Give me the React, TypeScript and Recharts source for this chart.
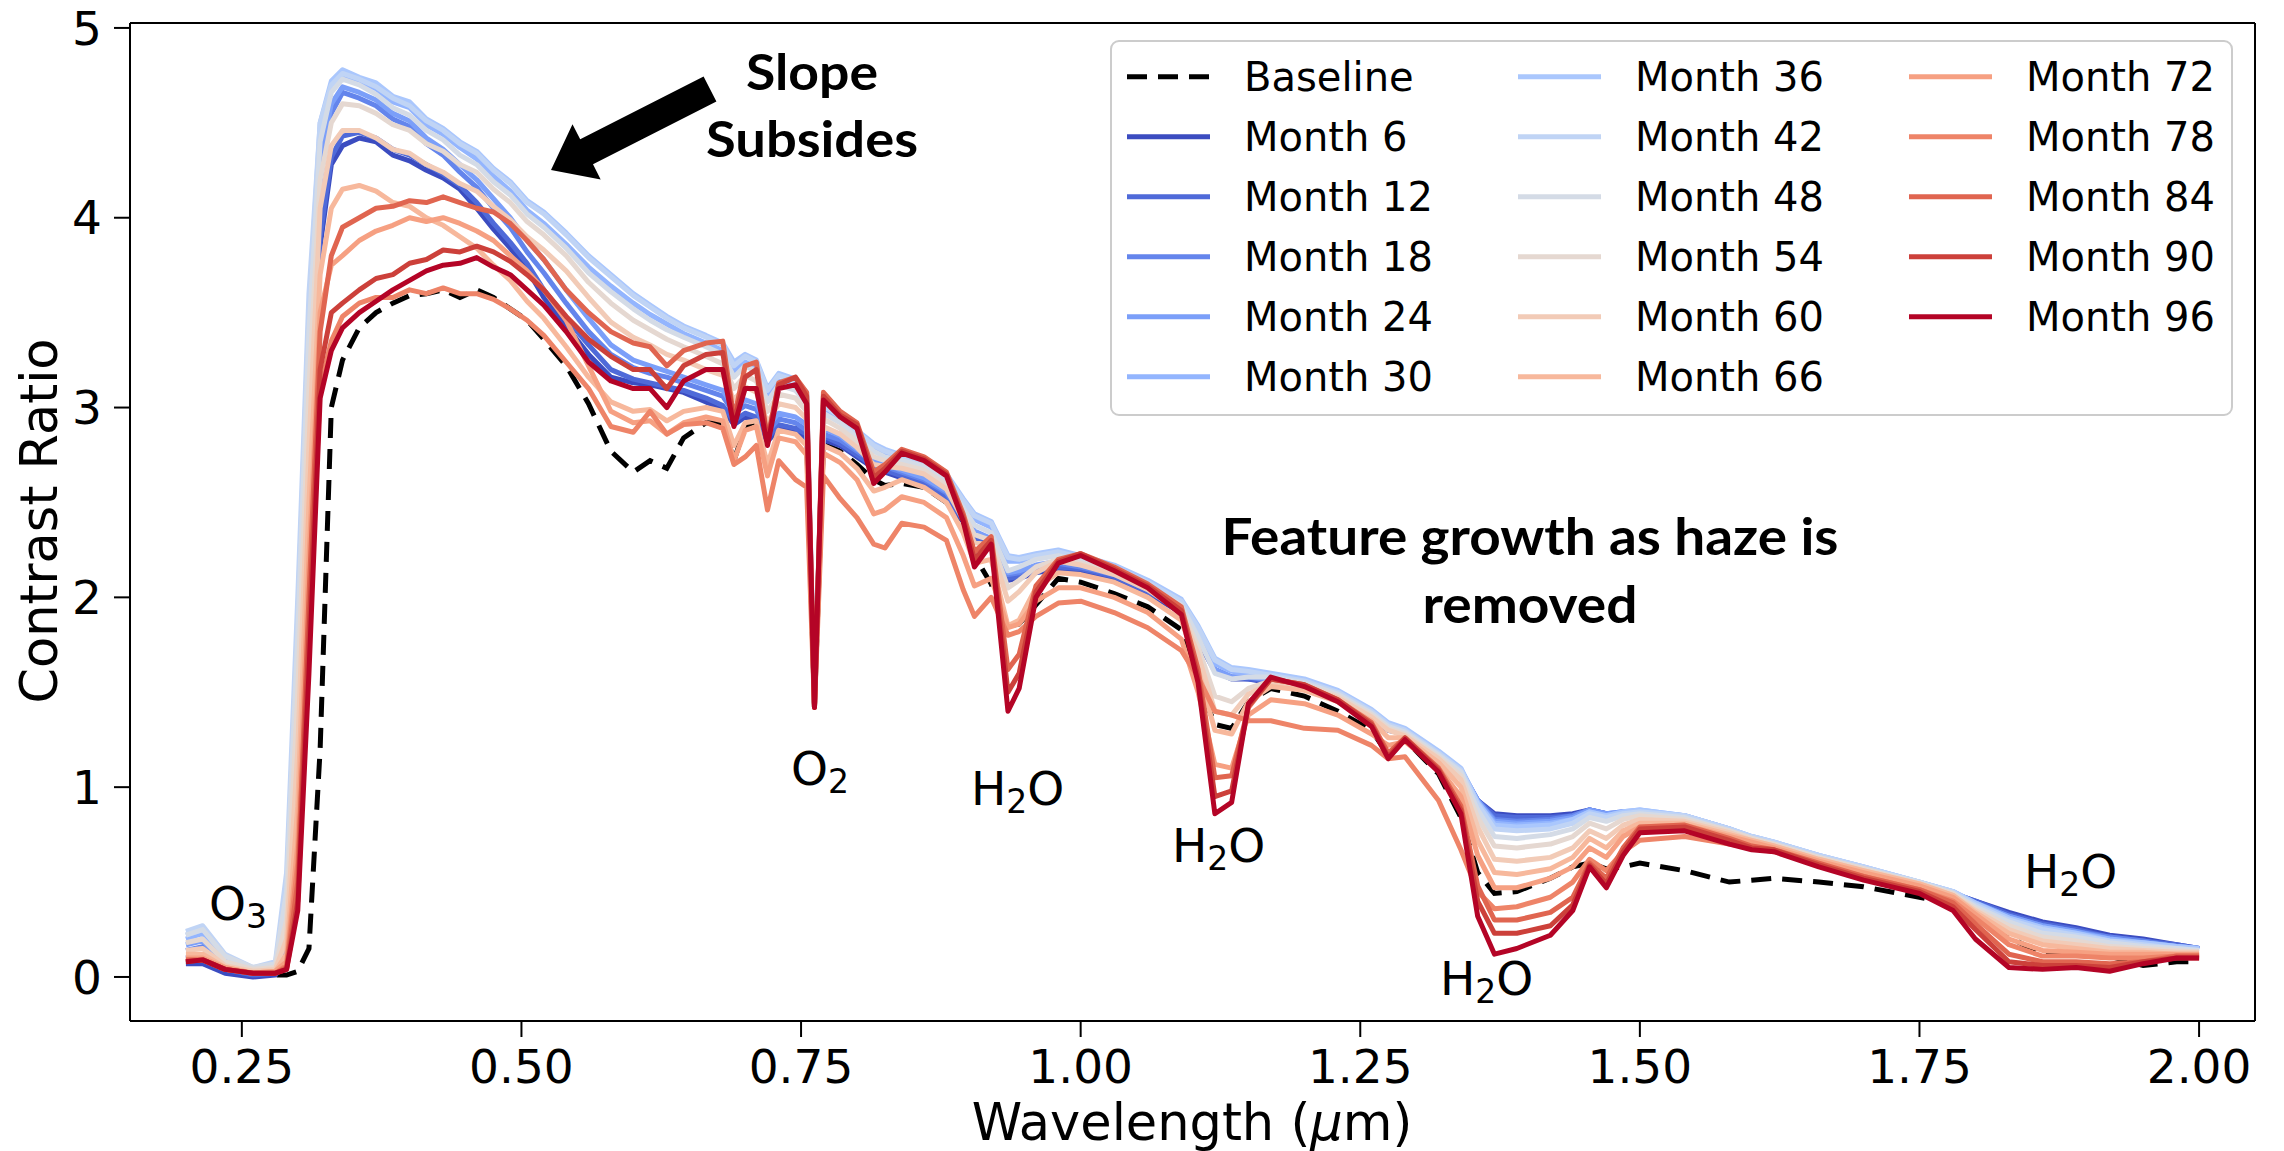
import React from 'react'
import { LineChart, Line, XAxis, YAxis, ReferenceLine } from 'recharts'

const W = 2284
const H = 1151

// wavelength grid (micron)
const WAVELENGTH = [
  0.2, 0.215, 0.235, 0.26, 0.28, 0.29, 0.3, 0.31, 0.32, 0.33,
  0.34, 0.355, 0.37, 0.385, 0.4, 0.415, 0.43, 0.445, 0.46, 0.475, 0.49, 0.505, 0.52, 0.54, 0.56,
  0.58, 0.6, 0.615, 0.63, 0.645, 0.665, 0.68, 0.69, 0.7, 0.71, 0.72, 0.73, 0.745, 0.755, 0.762, 0.77,
  0.785, 0.8, 0.815, 0.825, 0.84, 0.86, 0.88, 0.895, 0.905, 0.92, 0.935, 0.945, 0.96, 0.98, 1.0,
  1.03, 1.06, 1.09, 1.105, 1.12, 1.135, 1.15, 1.17, 1.2, 1.23, 1.26,
  1.275, 1.29, 1.32, 1.34, 1.355, 1.37, 1.39, 1.42, 1.44, 1.455, 1.47, 1.485, 1.5, 1.54, 1.58,
  1.6, 1.62, 1.66, 1.7, 1.75, 1.78, 1.8, 1.83, 1.86, 1.89, 1.92, 1.95, 1.98, 2.0
]

const BASELINE = [
  0.08, 0.08, 0.03, 0.01, 0.01, 0.01, 0.03, 0.15, 1.2, 3.0,
  3.25, 3.42, 3.5, 3.55, 3.59, 3.6, 3.62, 3.58, 3.62, 3.58, 3.52, 3.46, 3.36, 3.22, 3.02,
  2.77, 2.66, 2.72, 2.68, 2.84, 2.92, 2.92, 2.72, 2.9, 2.93, 2.83, 2.88, 2.89, 2.85, 1.42, 2.81,
  2.77, 2.7, 2.62, 2.59, 2.6, 2.58, 2.5, 2.4, 2.22, 2.07, 1.85, 1.86, 1.96, 2.1, 2.08,
  2.02, 1.95, 1.83, 1.56, 1.33, 1.31, 1.45, 1.52, 1.48, 1.4, 1.3,
  1.17, 1.25, 1.07, 0.84, 0.55, 0.44, 0.45, 0.52, 0.58, 0.6, 0.57, 0.58, 0.6, 0.56, 0.5,
  0.51, 0.52, 0.5, 0.475, 0.42, 0.38, 0.33, 0.21, 0.12, 0.12, 0.11, 0.06, 0.08, 0.08
]

const MONTH_6 = [
  0.07, 0.07, 0.02, 0.0, 0.01, 0.1, 1.1, 2.7, 3.85, 4.28,
  4.38, 4.42, 4.4, 4.33, 4.3, 4.25, 4.21, 4.15, 4.05, 3.94, 3.84, 3.73, 3.58, 3.43, 3.28,
  3.16, 3.13, 3.12, 3.1, 3.08, 3.03, 2.99, 2.91, 2.95, 2.93, 2.82, 2.89, 2.87, 2.84, 1.44, 2.83,
  2.8, 2.74, 2.68, 2.66, 2.63, 2.59, 2.52, 2.4, 2.31, 2.26, 2.09, 2.1, 2.13, 2.15, 2.14,
  2.1, 2.02, 1.92, 1.77, 1.61, 1.57, 1.57, 1.55, 1.52, 1.46, 1.36,
  1.3, 1.28, 1.17, 1.08, 0.93, 0.86, 0.85, 0.85, 0.86, 0.88, 0.86, 0.86, 0.86, 0.83, 0.76,
  0.73, 0.7, 0.63, 0.57, 0.49, 0.44, 0.4, 0.34, 0.29, 0.26, 0.22, 0.2, 0.17, 0.15
]

const MONTH_12 = [
  0.1, 0.11, 0.04, 0.01, 0.02, 0.15, 1.2, 2.8, 3.9, 4.32,
  4.43, 4.45, 4.42, 4.36, 4.33, 4.28, 4.23, 4.17, 4.08, 3.97, 3.87, 3.76, 3.62, 3.47, 3.33,
  3.2, 3.15, 3.13, 3.11, 3.09, 3.05, 3.01, 2.93, 2.97, 2.95, 2.84, 2.91, 2.89, 2.86, 1.44, 2.85,
  2.81, 2.75, 2.69, 2.67, 2.64, 2.6, 2.53, 2.41, 2.32, 2.27, 2.1, 2.11, 2.14, 2.16, 2.15,
  2.11, 2.03, 1.93, 1.78, 1.62, 1.58, 1.57, 1.56, 1.53, 1.47, 1.37,
  1.31, 1.28, 1.17, 1.08, 0.93, 0.85, 0.84, 0.84, 0.85, 0.88, 0.86, 0.86, 0.86, 0.84, 0.77,
  0.73, 0.7, 0.63, 0.57, 0.49, 0.44, 0.4, 0.33, 0.28, 0.25, 0.21, 0.19, 0.17, 0.15
]

const MONTH_18 = [
  0.14, 0.16, 0.06, 0.02, 0.03, 0.2, 1.4, 3.1, 4.2, 4.55,
  4.66, 4.63, 4.59, 4.52, 4.48, 4.39, 4.33, 4.24, 4.16, 4.05, 3.95, 3.82, 3.71, 3.55, 3.4,
  3.28, 3.21, 3.18, 3.16, 3.13, 3.09, 3.06, 2.97, 3.01, 2.99, 2.87, 2.94, 2.92, 2.88, 1.44, 2.86,
  2.83, 2.77, 2.71, 2.69, 2.66, 2.62, 2.55, 2.43, 2.34, 2.3, 2.12, 2.13, 2.16, 2.18, 2.16,
  2.12, 2.04, 1.94, 1.79, 1.62, 1.58, 1.58, 1.56, 1.53, 1.47, 1.37,
  1.31, 1.29, 1.17, 1.09, 0.93, 0.83, 0.82, 0.83, 0.85, 0.88, 0.86, 0.87, 0.87, 0.84, 0.77,
  0.73, 0.7, 0.63, 0.57, 0.49, 0.44, 0.39, 0.32, 0.27, 0.24, 0.21, 0.19, 0.16, 0.15
]

const MONTH_24 = [
  0.17, 0.19, 0.08, 0.03, 0.04, 0.25, 1.5, 3.2, 4.3, 4.6,
  4.69, 4.66, 4.62, 4.55, 4.51, 4.42, 4.36, 4.28, 4.2, 4.1, 4.0, 3.88, 3.78, 3.62, 3.47,
  3.33, 3.25, 3.22, 3.19, 3.16, 3.12, 3.09, 3.0, 3.04, 3.02, 2.9, 2.97, 2.95, 2.91, 1.44, 2.89,
  2.85, 2.78, 2.72, 2.7, 2.67, 2.63, 2.56, 2.44, 2.35, 2.31, 2.13, 2.14, 2.17, 2.19, 2.17,
  2.13, 2.05, 1.95, 1.8, 1.62, 1.58, 1.58, 1.57, 1.54, 1.48, 1.38,
  1.32, 1.29, 1.18, 1.09, 0.93, 0.82, 0.81, 0.82, 0.84, 0.88, 0.86, 0.87, 0.87, 0.85, 0.78,
  0.73, 0.7, 0.63, 0.57, 0.49, 0.44, 0.39, 0.32, 0.27, 0.24, 0.2, 0.18, 0.16, 0.15
]

const MONTH_30 = [
  0.2, 0.23, 0.1, 0.04, 0.05, 0.35, 1.7, 3.4, 4.45, 4.7,
  4.75, 4.72, 4.68, 4.61, 4.58, 4.49, 4.44, 4.37, 4.31, 4.22, 4.14, 4.04, 3.97, 3.86, 3.74,
  3.64, 3.55, 3.49, 3.44, 3.39, 3.34, 3.3, 3.19, 3.24, 3.21, 3.06, 3.14, 3.11, 3.04, 1.45, 2.99,
  2.93, 2.85, 2.78, 2.75, 2.73, 2.7, 2.62, 2.49, 2.41, 2.37, 2.19, 2.19, 2.21, 2.23, 2.2,
  2.15, 2.07, 1.97, 1.82, 1.65, 1.61, 1.6, 1.59, 1.56, 1.5, 1.4,
  1.33, 1.3, 1.18, 1.09, 0.92, 0.81, 0.8, 0.81, 0.83, 0.87, 0.85, 0.87, 0.88, 0.85, 0.78,
  0.74, 0.71, 0.64, 0.58, 0.5, 0.45, 0.39, 0.31, 0.26, 0.23, 0.2, 0.18, 0.16, 0.15
]

const MONTH_36 = [
  0.22, 0.25, 0.11, 0.04, 0.06, 0.45, 1.9, 3.5, 4.5, 4.72,
  4.78, 4.74, 4.71, 4.64, 4.61, 4.52, 4.47, 4.4, 4.35, 4.26, 4.19, 4.09, 4.03, 3.92, 3.8,
  3.7, 3.6, 3.54, 3.48, 3.43, 3.38, 3.34, 3.24, 3.28, 3.25, 3.1, 3.18, 3.15, 3.08, 1.45, 3.02,
  2.96, 2.88, 2.81, 2.78, 2.75, 2.72, 2.65, 2.52, 2.44, 2.4, 2.22, 2.21, 2.23, 2.25, 2.22,
  2.17, 2.09, 1.99, 1.85, 1.68, 1.63, 1.62, 1.6, 1.57, 1.51, 1.41,
  1.34, 1.31, 1.19, 1.1, 0.92, 0.8, 0.79, 0.8, 0.83, 0.87, 0.85, 0.87, 0.88, 0.85, 0.78,
  0.74, 0.71, 0.64, 0.58, 0.5, 0.45, 0.39, 0.31, 0.26, 0.23, 0.19, 0.18, 0.16, 0.15
]

const MONTH_42 = [
  0.24, 0.27, 0.12, 0.05, 0.08, 0.55, 2.0, 3.6, 4.5, 4.7,
  4.76, 4.73, 4.69, 4.63, 4.59, 4.51, 4.46, 4.39, 4.34, 4.25, 4.18, 4.08, 4.02, 3.91, 3.79,
  3.69, 3.59, 3.53, 3.47, 3.42, 3.37, 3.33, 3.22, 3.27, 3.24, 3.09, 3.17, 3.14, 3.07, 1.45, 3.01,
  2.95, 2.87, 2.8, 2.77, 2.74, 2.71, 2.64, 2.51, 2.43, 2.39, 2.21, 2.2, 2.22, 2.24, 2.21,
  2.16, 2.08, 1.98, 1.84, 1.67, 1.62, 1.61, 1.59, 1.56, 1.5, 1.4,
  1.33, 1.3, 1.18, 1.09, 0.91, 0.78, 0.77, 0.78, 0.81, 0.86, 0.84, 0.86, 0.87, 0.85, 0.78,
  0.74, 0.71, 0.64, 0.58, 0.5, 0.45, 0.38, 0.3, 0.25, 0.22, 0.19, 0.17, 0.15, 0.14
]

const MONTH_48 = [
  0.22, 0.25, 0.11, 0.05, 0.07, 0.45, 1.8, 3.4, 4.4, 4.66,
  4.73, 4.7, 4.65, 4.58, 4.54, 4.46, 4.41, 4.33, 4.28, 4.19, 4.12, 4.02, 3.95, 3.84, 3.71,
  3.61, 3.52, 3.46, 3.41, 3.37, 3.32, 3.28, 3.16, 3.22, 3.19, 3.03, 3.12, 3.09, 3.02, 1.45, 2.97,
  2.92, 2.84, 2.77, 2.74, 2.72, 2.69, 2.61, 2.47, 2.38, 2.34, 2.14, 2.16, 2.2, 2.22, 2.19,
  2.14, 2.06, 1.96, 1.79, 1.6, 1.57, 1.58, 1.58, 1.55, 1.49, 1.39,
  1.32, 1.29, 1.17, 1.08, 0.88, 0.74, 0.73, 0.75, 0.78, 0.84, 0.82, 0.85, 0.86, 0.84, 0.77,
  0.73, 0.7, 0.63, 0.57, 0.5, 0.44, 0.37, 0.29, 0.23, 0.21, 0.18, 0.16, 0.15, 0.14
]

const MONTH_54 = [
  0.18, 0.2, 0.08, 0.04, 0.05, 0.3, 1.5, 3.1, 4.2, 4.5,
  4.6, 4.59, 4.55, 4.49, 4.46, 4.39, 4.35, 4.28, 4.24, 4.15, 4.08, 3.98, 3.91, 3.8, 3.66,
  3.55, 3.46, 3.41, 3.36, 3.32, 3.27, 3.23, 3.1, 3.17, 3.14, 2.98, 3.07, 3.05, 2.98, 1.44, 2.94,
  2.89, 2.82, 2.74, 2.72, 2.7, 2.67, 2.59, 2.44, 2.33, 2.3, 2.05, 2.09, 2.16, 2.2, 2.18,
  2.13, 2.05, 1.94, 1.74, 1.48, 1.45, 1.52, 1.56, 1.54, 1.48, 1.38,
  1.31, 1.28, 1.16, 1.06, 0.84, 0.69, 0.68, 0.7, 0.74, 0.81, 0.78, 0.83, 0.85, 0.83, 0.77,
  0.73, 0.7, 0.63, 0.57, 0.49, 0.44, 0.36, 0.27, 0.21, 0.19, 0.16, 0.15, 0.14, 0.13
]

const MONTH_60 = [
  0.14, 0.15, 0.06, 0.03, 0.04, 0.2, 1.2, 2.8, 4.05, 4.38,
  4.46, 4.46, 4.42, 4.36, 4.34, 4.28, 4.24, 4.18, 4.14, 4.06, 3.99, 3.9, 3.83, 3.72, 3.58,
  3.45, 3.37, 3.33, 3.28, 3.25, 3.2, 3.17, 3.04, 3.11, 3.08, 2.92, 3.02, 3.0, 2.94, 1.44, 2.9,
  2.86, 2.79, 2.7, 2.69, 2.68, 2.65, 2.57, 2.41, 2.29, 2.27, 1.98, 2.03, 2.13, 2.19, 2.17,
  2.12, 2.04, 1.92, 1.7, 1.4, 1.38, 1.49, 1.55, 1.53, 1.47, 1.37,
  1.3, 1.27, 1.15, 1.04, 0.79, 0.62, 0.61, 0.63, 0.68, 0.77, 0.73, 0.8, 0.83, 0.82, 0.76,
  0.72, 0.69, 0.62, 0.56, 0.49, 0.43, 0.35, 0.25, 0.19, 0.17, 0.15, 0.14, 0.13, 0.13
]

const MONTH_66 = [
  0.12, 0.12, 0.05, 0.02, 0.03, 0.12, 0.9, 2.5, 3.7, 4.05,
  4.15, 4.17, 4.14, 4.08, 4.06, 4.0, 3.96, 3.9, 3.84, 3.75, 3.67, 3.56, 3.47, 3.32, 3.16,
  3.03, 2.98, 2.99, 2.93, 2.98, 3.0, 2.98, 2.8, 2.92, 2.93, 2.7, 2.88, 2.86, 2.8, 1.43, 2.8,
  2.76, 2.68, 2.56, 2.58, 2.62, 2.58, 2.5, 2.34, 2.18, 2.2, 1.85, 1.88, 2.05, 2.13, 2.12,
  2.08, 2.0, 1.88, 1.62, 1.3, 1.28, 1.45, 1.53, 1.51, 1.45, 1.35,
  1.26, 1.26, 1.13, 1.0, 0.72, 0.55, 0.54, 0.57, 0.63, 0.73, 0.68, 0.77, 0.81, 0.81, 0.75,
  0.72, 0.69, 0.62, 0.56, 0.49, 0.43, 0.34, 0.23, 0.17, 0.15, 0.13, 0.13, 0.12, 0.12
]

const MONTH_72 = [
  0.1, 0.1, 0.05, 0.02, 0.03, 0.08, 0.7, 2.2, 3.5, 3.75,
  3.8, 3.88, 3.93, 3.96, 4.0, 3.98, 4.0, 3.97, 3.93, 3.88, 3.8, 3.72, 3.62, 3.46, 3.22,
  2.98, 2.92, 2.93, 2.86, 2.92, 2.95, 2.93, 2.72, 2.88, 2.9, 2.64, 2.84, 2.82, 2.75, 1.43, 2.76,
  2.71, 2.62, 2.44, 2.46, 2.53, 2.5, 2.42, 2.22, 2.06, 2.1, 1.84, 1.86, 1.98, 2.05, 2.05,
  2.0, 1.92, 1.78, 1.5, 1.12, 1.1, 1.38, 1.46, 1.44, 1.38, 1.28,
  1.22, 1.24, 1.1, 0.95, 0.64, 0.47, 0.47, 0.52, 0.58, 0.68, 0.63, 0.74, 0.79, 0.8, 0.74,
  0.71, 0.68, 0.61, 0.55, 0.48, 0.42, 0.33, 0.2, 0.14, 0.13, 0.12, 0.12, 0.12, 0.12
]

const MONTH_78 = [
  0.09, 0.09, 0.04, 0.02, 0.02, 0.06, 0.6, 1.8, 3.1, 3.35,
  3.48, 3.55, 3.58, 3.58, 3.62, 3.6, 3.63, 3.6, 3.6, 3.57, 3.52, 3.46, 3.38, 3.24, 3.1,
  2.9, 2.87, 2.98, 2.86, 2.91, 2.92, 2.89, 2.7, 2.74, 2.8, 2.46, 2.72, 2.62, 2.58, 1.42, 2.64,
  2.52, 2.42, 2.28, 2.26, 2.39, 2.37, 2.3, 2.04, 1.9, 2.0, 1.8, 1.82, 1.9, 1.97, 1.98,
  1.92, 1.84, 1.72, 1.58, 1.4, 1.38, 1.35, 1.35, 1.31, 1.3, 1.22,
  1.15, 1.16, 0.93, 0.67, 0.45, 0.36, 0.37, 0.42, 0.5, 0.62, 0.56, 0.66, 0.72, 0.74, 0.7,
  0.68, 0.66, 0.59, 0.53, 0.46, 0.4, 0.31, 0.17, 0.11, 0.11, 0.1, 0.1, 0.11, 0.11
]

const MONTH_84 = [
  0.09, 0.09, 0.04, 0.02, 0.02, 0.05, 0.5, 2.0, 3.4, 3.8,
  3.95, 4.0, 4.05, 4.06, 4.09, 4.08, 4.11, 4.08, 4.05, 4.03, 3.97, 3.88, 3.78, 3.62, 3.5,
  3.4, 3.34, 3.32, 3.22, 3.3, 3.34, 3.35, 2.94, 3.22, 3.24, 2.83, 3.13, 3.16, 3.08, 1.42, 3.08,
  2.98, 2.92, 2.66, 2.7, 2.78, 2.74, 2.66, 2.44, 2.24, 2.32, 1.62, 1.7, 2.06, 2.2, 2.23,
  2.16, 2.07, 1.95, 1.62, 1.05, 1.06, 1.42, 1.57, 1.54, 1.46, 1.34,
  1.18, 1.26, 1.1, 0.9, 0.48, 0.3, 0.3, 0.34, 0.42, 0.6, 0.52, 0.68, 0.79, 0.8, 0.73,
  0.69, 0.67, 0.6, 0.53, 0.46, 0.39, 0.28, 0.12, 0.08, 0.08, 0.07, 0.08, 0.11, 0.11
]

const MONTH_90 = [
  0.08, 0.09, 0.04, 0.02, 0.02, 0.04, 0.4, 1.8, 3.2, 3.5,
  3.55, 3.62, 3.68, 3.7, 3.76, 3.78, 3.83, 3.82, 3.85, 3.82, 3.77, 3.7, 3.62, 3.48, 3.36,
  3.27, 3.2, 3.2, 3.1, 3.22, 3.28, 3.29, 2.92, 3.16, 3.2, 2.82, 3.12, 3.16, 3.06, 1.42, 3.06,
  2.96, 2.91, 2.63, 2.68, 2.77, 2.73, 2.65, 2.42, 2.2, 2.3, 1.5, 1.6, 2.03, 2.19, 2.23,
  2.15, 2.06, 1.93, 1.58, 0.95, 0.98, 1.43, 1.57, 1.54, 1.46, 1.33,
  1.16, 1.26, 1.09, 0.88, 0.4, 0.23, 0.23, 0.27, 0.38, 0.59, 0.49, 0.66, 0.78, 0.79, 0.72,
  0.68, 0.67, 0.59, 0.52, 0.45, 0.37, 0.25, 0.08, 0.06, 0.06, 0.05, 0.08, 0.1, 0.1
]

const MONTH_96 = [
  0.08, 0.09, 0.04, 0.02, 0.02, 0.04, 0.35, 1.6, 3.05, 3.3,
  3.42, 3.5, 3.56, 3.62, 3.67, 3.72, 3.75, 3.76, 3.79, 3.74, 3.7, 3.62, 3.54, 3.4, 3.24,
  3.14, 3.1, 3.1, 3.0, 3.14, 3.2, 3.2, 2.9, 3.1, 3.1, 2.8, 3.1, 3.12, 3.02, 1.42, 3.04,
  2.95, 2.89, 2.6, 2.66, 2.76, 2.72, 2.64, 2.4, 2.16, 2.28, 1.4, 1.52, 2.0, 2.18, 2.22,
  2.14, 2.05, 1.91, 1.55, 0.86, 0.92, 1.44, 1.58, 1.53, 1.45, 1.32,
  1.15, 1.25, 1.08, 0.86, 0.32, 0.12, 0.15, 0.22, 0.35, 0.58, 0.47, 0.64, 0.76, 0.77, 0.7,
  0.67, 0.66, 0.58, 0.51, 0.44, 0.35, 0.2, 0.05, 0.04, 0.05, 0.03, 0.07, 0.1, 0.1
]

const MONTHS = [6, 12, 18, 24, 30, 36, 42, 48, 54, 60, 66, 72, 78, 84, 90, 96]
const MONTH_VALUES = [
  MONTH_6, MONTH_12, MONTH_18, MONTH_24, MONTH_30, MONTH_36, MONTH_42, MONTH_48,
  MONTH_54, MONTH_60, MONTH_66, MONTH_72, MONTH_78, MONTH_84, MONTH_90, MONTH_96
]
// coolwarm, 16 steps
const MONTH_COLORS = [
  '#3b4cc0', '#4f6ad9', '#6485ec', '#7b9ff9', '#93b5fe', '#aac7fd', '#c0d4f5', '#d4dbe6',
  '#e5d8d1', '#f2cbb7', '#f7b89c', '#f6a082', '#ee8468', '#e06550', '#cc403a', '#b40426'
]

const X_TICKS = [0.25, 0.5, 0.75, 1.0, 1.25, 1.5, 1.75, 2.0]
const Y_TICKS = [0, 1, 2, 3, 4, 5]
const X_DOMAIN: [number, number] = [0.15, 2.05]
const Y_DOMAIN: [number, number] = [-0.232, 5.026]

const FONT = 'DejaVu Sans'
const BOLD_FONT = 'Lato'

const chartData = WAVELENGTH.map((wl, i) => {
  const row: Record<string, number> = { wl, baseline: BASELINE[i] }
  MONTHS.forEach((m, k) => {
    row[`m${m}`] = MONTH_VALUES[k][i]
  })
  return row
})

const legendItems = [
  { label: 'Baseline', color: '#000', dashed: true },
  ...MONTHS.map((m, k) => ({ label: `Month ${m}`, color: MONTH_COLORS[k], dashed: false }))
]

const axisStyle = { stroke: '#000', strokeWidth: 2 }
const tickStyle = { fill: '#000', fontSize: 47, fontFamily: FONT }

function Molecule({ x, y, head, sub, tail }: { x: number; y: number; head: string; sub: string; tail?: string }) {
  return (
    <text x={x} y={y} fontFamily={FONT} fontSize={47} fill="#000">
      <tspan>{head}</tspan>
      <tspan dy={8} fontSize={33}>{sub}</tspan>
      {tail ? <tspan dy={-8}>{tail}</tspan> : null}
    </text>
  )
}

export default function App() {
  return (
    <div style={{ position: 'absolute', left: 0, top: 0, width: W, height: H, background: '#fff' }}>
      <LineChart width={W} height={H} data={chartData} margin={{ top: 23, right: 29, bottom: 0, left: 0 }}>
        <XAxis
          dataKey="wl"
          type="number"
          domain={X_DOMAIN}
          allowDataOverflow
          ticks={X_TICKS}
          interval={0}
          tickFormatter={(v: number) => v.toFixed(2)}
          height={130}
          tickSize={16}
          tickMargin={13}
          tick={tickStyle}
          tickLine={axisStyle}
          axisLine={axisStyle}
        />
        <YAxis
          type="number"
          domain={Y_DOMAIN}
          allowDataOverflow
          ticks={Y_TICKS}
          interval={0}
          width={130}
          tickSize={16}
          tickMargin={12}
          tick={tickStyle}
          tickLine={axisStyle}
          axisLine={axisStyle}
        />
        {/* top and right spines */}
        <ReferenceLine y={Y_DOMAIN[1]} stroke="#000" strokeWidth={2} />
        <ReferenceLine x={X_DOMAIN[1]} stroke="#000" strokeWidth={2} />
        <Line
          dataKey="baseline"
          stroke="#000"
          strokeWidth={5}
          strokeDasharray="20 11"
          dot={false}
          activeDot={false}
          isAnimationActive={false}
        />
        {MONTHS.map((m, k) => (
          <Line
            key={m}
            dataKey={`m${m}`}
            stroke={MONTH_COLORS[k]}
            strokeWidth={5}
            strokeLinejoin="round"
            dot={false}
            activeDot={false}
            isAnimationActive={false}
          />
        ))}
      </LineChart>

      {/* annotations, axis labels and legend */}
      <svg width={W} height={H} style={{ position: 'absolute', left: 0, top: 0, pointerEvents: 'none' }}>
        <text x={1192} y={1140} textAnchor="middle" fontFamily={FONT} fontSize={51} fill="#000">
          Wavelength (<tspan fontStyle="italic">μ</tspan>m)
        </text>
        <text transform="translate(57,521) rotate(-90)" textAnchor="middle" fontFamily={FONT} fontSize={51} fill="#000">
          Contrast Ratio
        </text>

        <Molecule x={209} y={920} head="O" sub="3" />
        <Molecule x={791} y={785} head="O" sub="2" />
        <Molecule x={971} y={805} head="H" sub="2" tail="O" />
        <Molecule x={1172} y={862} head="H" sub="2" tail="O" />
        <Molecule x={1440} y={995} head="H" sub="2" tail="O" />
        <Molecule x={2024} y={888} head="H" sub="2" tail="O" />

        <g fontFamily={BOLD_FONT} fontWeight={700} fill="#000" textAnchor="middle">
          <text x={812} y={90} fontSize={50} textLength={132} lengthAdjust="spacingAndGlyphs">Slope</text>
          <text x={812} y={157} fontSize={50} textLength={212} lengthAdjust="spacingAndGlyphs">Subsides</text>
          <text x={1530} y={555} fontSize={52} textLength={617} lengthAdjust="spacingAndGlyphs">Feature growth as haze is</text>
          <text x={1530} y={623} fontSize={52} textLength={215} lengthAdjust="spacingAndGlyphs">removed</text>
        </g>
        <polygon
          points="703.6,76.5 580.2,139.3 572.5,124.2 551,170 600.7,179.4 593,164.3 716.4,101.5"
          fill="#000"
        />

        <rect x={1111} y={41} width={1121} height={374} rx={8} fill="#fff" fillOpacity={0.8} stroke="#cccccc" strokeWidth={2} />
        {legendItems.map((item, e) => {
          const col = Math.floor(e / 6)
          const row = e % 6
          const x0 = 1127 + col * 391
          const y = 76.7 + row * 60
          return (
            <g key={item.label}>
              <line
                x1={x0}
                x2={x0 + 83}
                y1={y}
                y2={y}
                stroke={item.color}
                strokeWidth={5}
                strokeDasharray={item.dashed ? '20 11' : undefined}
              />
              <text x={x0 + 117} y={y + 14.6} fontFamily={FONT} fontSize={40} fill="#000">
                {item.label}
              </text>
            </g>
          )
        })}
      </svg>
    </div>
  )
}
